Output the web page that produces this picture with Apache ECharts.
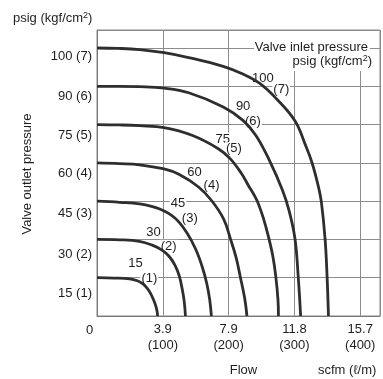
<!DOCTYPE html>
<html>
<head>
<meta charset="utf-8">
<script src="https://cdn.jsdelivr.net/npm/echarts@6/dist/echarts.min.js"></script>
<style>
  html, body { margin: 0; padding: 0; background: #fff; }
  #chart { width: 383px; height: 379px; }
</style>
</head>
<body>
<div id="chart"></div>
<script>
// Inlet pressure of each flow curve
const inletPsig = [15, 30, 45, 60, 75, 90, 100];
const inletKgf = [1, 2, 3, 4, 5, 6, 7];

// Flow axis ticks: litres per minute and the matching scfm
const xTickLpm = [0, 100, 200, 300, 400];
const xTickScfm = ['0', '3.9', '7.9', '11.8', '15.7'];

// Flow (l/min) against outlet pressure (kgf/cm2), one pair per inlet pressure
const flow1 = [0, 25.5, 49.4, 61.4, 69.7, 76.4, 81.7, 86.2, 89.5, 91.4, 92];
const out1  = [1, 0.99, 0.97, 0.92, 0.84, 0.72, 0.58, 0.41, 0.25, 0.11, 0];

const flow2 = [0, 34.5, 64.4, 83.9, 98.9, 109.4, 118.4, 125.1, 129.6, 132.6, 134.4];
const out2  = [2, 1.99, 1.95, 1.85, 1.72, 1.56, 1.33, 1.04, 0.69, 0.37, 0];

const flow3 = [0, 34.5, 64.4, 94.4, 118.4, 136.3, 149.8, 159.6, 166.8, 171.3, 173.8];
const out3  = [3, 2.97, 2.93, 2.8, 2.56, 2.18, 1.75, 1.3, 0.85, 0.42, 0];

const flow4 = [0, 34, 64.4, 101.9, 124.4, 154.3, 174.3, 192.5, 203, 211.3, 218, 223.7, 226.1, 227.8];
const out4  = [4, 3.98, 3.95, 3.84, 3.7, 3.37, 3.01, 2.53, 2, 1.53, 1, 0.53, 0.26, 0];

const flow5 = [0, 34, 64.4, 101.9, 144.3, 184.3, 202.3, 218.8, 230.7, 242.7, 253.2, 261.5, 267.5, 271.7, 275, 275.7];
const out5  = [5, 4.99, 4.97, 4.92, 4.72, 4.37, 4.11, 3.74, 3.39, 3.03, 2.53, 2, 1.53, 1.03, 0.42, 0];

const flow6 = [0, 32, 64.4, 101.9, 139.3, 191.8, 221.8, 241.7, 261.8, 281.7, 291.7, 300.7, 305.7, 309.4];
const out6  = [6, 6, 5.99, 5.95, 5.83, 5.46, 5.11, 4.71, 4.07, 3.29, 2.76, 2.03, 1.04, 0];

const flow7 = [0, 32, 64.4, 101.9, 139.3, 191.7, 221.6, 246.8, 271.7, 300.7, 316.6, 326.6, 336.4, 340.9, 346.6, 349.6, 351.7];
const out7  = [7, 6.99, 6.96, 6.88, 6.75, 6.52, 6.32, 6.08, 5.69, 5.1, 4.47, 4.01, 3.38, 2.98, 2, 1.03, 0];

const flows = [flow1, flow2, flow3, flow4, flow5, flow6, flow7];
const outs = [out1, out2, out3, out4, out5, out6, out7];

// Where the inlet-pressure tags sit beside each curve (flow, pressure)
const psigTagAt = [[58.5, 1.38], [86, 2.19], [123, 2.94], [148, 3.75], [191, 4.62], [222, 5.48], [252, 6.2]];
const kgfTagAt  = [[79.5, 0.98], [109, 1.82], [141, 2.55], [174, 3.42], [208, 4.37], [237, 5.08], [280, 5.93]];

// Downward nudge of each y tick label (px)
const yLabelDrop = [15.8, 14.6, 12.4, 11.2, 10.5, 10.7, 8.5];

const FONT = '"Liberation Sans", Arial, Helvetica, sans-serif';
const INK = '#1e1e1e';

const yRich = {};
inletKgf.forEach((k, i) => {
  yRich['y' + i] = {
    fontSize: 13, fontFamily: FONT, color: INK,
    padding: [Math.round(yLabelDrop[i] * 2), 0, 0, 0]
  };
});

const curveSeries = flows.map((f, i) => ({
  type: 'line',
  name: inletPsig[i] + ' psig',
  data: f.map((x, j) => [x, outs[i][j]]),
  showSymbol: false,
  symbol: 'none',
  smooth: 0.4,
  silent: true,
  z: 4,
  lineStyle: { color: '#2e2e2e', width: 2.8 }
}));

const tagData = [];
inletPsig.forEach((p, i) => {
  tagData.push({ value: psigTagAt[i], tag: String(p) });
  tagData.push({ value: kgfTagAt[i], tag: '(' + inletKgf[i] + ')' });
});

// Tags sit under the curves but over the grid, masking the grid with white
const tagSeries = {
  type: 'scatter',
  data: tagData,
  symbolSize: 0,
  silent: true,
  z: 2,
  itemStyle: { opacity: 1, color: INK },
  label: {
    show: true,
    position: 'inside',
    formatter: p => p.data.tag,
    fontSize: 13,
    fontFamily: FONT,
    color: INK,
    opacity: 1,
    textBorderWidth: 0,
    backgroundColor: '#fff',
    padding: [0, 1]
  }
};

const chart = echarts.init(document.getElementById('chart'), null, { renderer: 'canvas' });

chart.setOption({
  animation: false,
  backgroundColor: '#fff',
  grid: {
    left: 97, right: -1, top: 30, bottom: 63,
    show: true, borderColor: '#888', borderWidth: 1, backgroundColor: 'transparent'
  },
  xAxis: {
    type: 'value',
    min: 0, max: 430, interval: 100,
    axisLine: { show: true, lineStyle: { color: '#777', width: 1 } },
    axisTick: { show: false },
    splitLine: { show: true, lineStyle: { color: '#8c8c8c', width: 1 } },
    axisLabel: {
      margin: 5,
      fontSize: 13, fontFamily: FONT, color: INK, lineHeight: 16,
      formatter: v => {
        const i = xTickLpm.indexOf(v);
        if (i < 0) return '';
        if (v === 0) return '{z|0}';
        return '{t|' + xTickScfm[i] + '}\n{t|(' + xTickLpm[i] + ')}';
      },
      rich: {
        t: { fontSize: 13, fontFamily: FONT, color: INK, lineHeight: 16 },
        z: { fontSize: 13, fontFamily: FONT, color: INK, lineHeight: 16, padding: [3, 15, 0, 0] }
      }
    }
  },
  yAxis: {
    type: 'value',
    min: 0, max: 7.47, interval: 1,
    axisLine: { show: true, lineStyle: { color: '#777', width: 1 } },
    axisTick: { show: false },
    splitLine: { show: true, lineStyle: { color: '#8c8c8c', width: 1 } },
    axisLabel: {
      margin: 5,
      fontSize: 13, fontFamily: FONT, color: INK,
      formatter: v => {
        const i = inletKgf.indexOf(v);
        if (i < 0) return '';
        return '{y' + i + '|' + inletPsig[i] + ' (' + inletKgf[i] + ')}';
      },
      rich: yRich
    }
  },
  graphic: [
    {
      type: 'text', x: 13, y: 18.5, z: 10,
      style: {
        text: 'psig (kgf/cm{s|2})',
        fontSize: 13, fontFamily: FONT, fill: INK,
        verticalAlign: 'middle',
        rich: { s: { fontSize: 9, fontFamily: FONT, fill: INK, verticalAlign: 'top', padding: [0, 0, 6, 0] } }
      }
    },
    {
      type: 'text', x: 27, y: 174, rotation: Math.PI / 2, z: 10,
      style: {
        text: 'Valve outlet pressure',
        fontSize: 13, fontFamily: FONT, fill: INK,
        align: 'center', verticalAlign: 'middle'
      }
    },
    {
      type: 'rect', z: 1, silent: true,
      shape: { x: 254, y: 31, width: 116, height: 24 },
      style: { fill: '#fff' }
    },
    {
      type: 'rect', z: 1, silent: true,
      shape: { x: 287, y: 54, width: 87, height: 17 },
      style: { fill: '#fff' }
    },
    {
      type: 'text', x: 368, y: 47.5, z: 10,
      style: {
        text: 'Valve inlet pressure',
        fontSize: 13, fontFamily: FONT, fill: INK,
        align: 'right', verticalAlign: 'middle'
      }
    },
    {
      type: 'text', x: 372, y: 61.5, z: 10,
      style: {
        text: 'psig (kgf/cm{s|2})',
        fontSize: 13, fontFamily: FONT, fill: INK,
        align: 'right', verticalAlign: 'middle',
        rich: { s: { fontSize: 9, fontFamily: FONT, fill: INK, verticalAlign: 'top', padding: [0, 0, 6, 0] } }
      }
    },
    {
      type: 'text', x: 243.5, y: 370, z: 10,
      style: {
        text: 'Flow',
        fontSize: 13, fontFamily: FONT, fill: INK,
        align: 'center', verticalAlign: 'middle'
      }
    },
    {
      type: 'text', x: 318, y: 370, z: 10,
      style: {
        text: 'scfm (ℓ/m)',
        fontSize: 13, fontFamily: FONT, fill: INK,
        align: 'left', verticalAlign: 'middle'
      }
    }
  ],
  series: curveSeries.concat([tagSeries])
});
</script>
</body>
</html>
